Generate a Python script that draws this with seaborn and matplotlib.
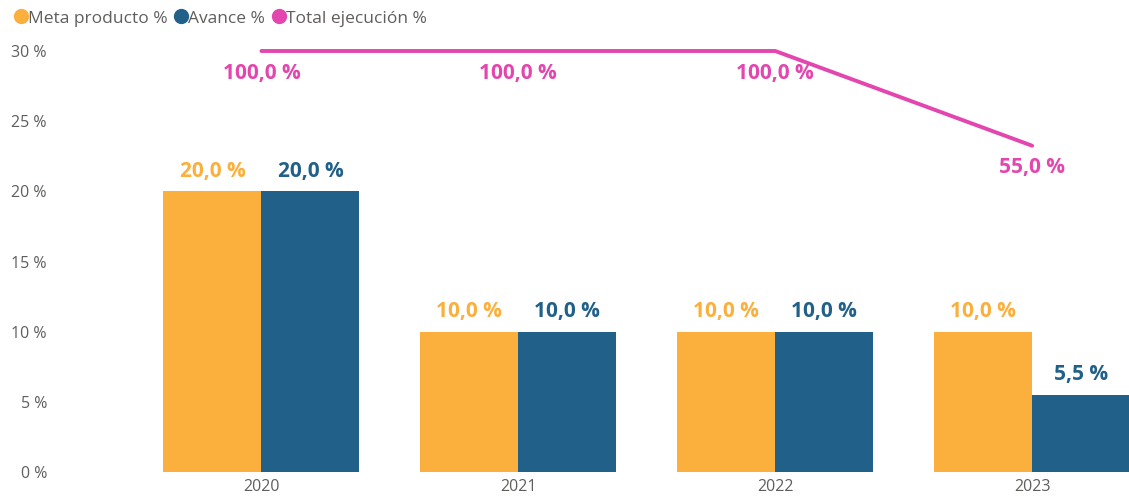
import numpy as np
import pandas as pd
import seaborn as sns
import matplotlib.pyplot as plt
from matplotlib.lines import Line2D

# Data
years = ["2020", "2021", "2022", "2023"]
meta = [20.0, 10.0, 10.0, 10.0]
avance = [20.0, 10.0, 10.0, 5.5]
total = [100.0, 100.0, 100.0, 55.0]

c_meta = "#FBAF3C"
c_avance = "#216089"
c_total = "#E346AE"
c_text = "#605E5C"

sns.set_theme(style="white")
plt.rcParams["font.family"] = ["Open Sans", "DejaVu Sans"]

df = pd.DataFrame({
    "year": years * 2,
    "value": meta + avance,
    "serie": ["Meta producto %"] * 4 + ["Avance %"] * 4,
})

fig = plt.figure(figsize=(11.29, 4.99), dpi=100)
ax = fig.add_axes([0.1178, 0.0541, 0.8822, 0.8437])

sns.barplot(data=df, x="year", y="value", hue="serie", palette=[c_meta, c_avance],
            width=0.763, saturation=1, gap=0, legend=False, linewidth=0, ax=ax)

def fmt(v):
    return f"{v:.1f}".replace(".", ",") + " %"

for cont, vals, col in zip(ax.containers, [meta, avance], [c_meta, c_avance]):
    ax.bar_label(cont, labels=[fmt(v) for v in vals], padding=7, color=col,
                 fontsize=15, fontweight="bold")

ax.set_ylim(0, 30)
ax.set_xlim(-0.5, 3.377)
ax.set_yticks([0, 5, 10, 15, 20, 25, 30])
ax.set_yticklabels([f"{t} %" for t in [0, 5, 10, 15, 20, 25, 30]])
ax.set_xlabel("")
ax.set_ylabel("")
ax.tick_params(axis="y", pad=62, labelsize=11.5, labelcolor=c_text, length=0)
ax.tick_params(axis="x", labelsize=11.5, labelcolor=c_text, length=0, pad=5)
for s in ax.spines.values():
    s.set_visible(False)

# secondary axis for the line
ax2 = ax.twinx()
xs = np.arange(len(years))
sns.lineplot(x=xs, y=total, color=c_total, linewidth=2.8, ax=ax2, clip_on=False)
ax2.set_ylim(-100, 100)
ax2.set_yticks([])
for s in ax2.spines.values():
    s.set_visible(False)
for x, v in zip(xs, total):
    ax2.annotate(fmt(v), (x, v), xytext=(0, -16), textcoords="offset points",
                 ha="center", va="center", color=c_total, fontsize=15,
                 fontweight="bold", annotation_clip=False)

handles = [Line2D([], [], marker="o", linestyle="", markersize=10, color=c)
           for c in [c_meta, c_avance, c_total]]
fig.legend(handles, ["Meta producto %", "Avance %", "Total ejecución %"],
           loc="upper left", bbox_to_anchor=(0.0, 1.0), ncol=3, frameon=False,
           fontsize=12.5, labelcolor=c_text, handletextpad=-0.2,
           columnspacing=0.2, borderaxespad=0.2, handlelength=1.2)

fig.savefig("out.png", dpi=100)
